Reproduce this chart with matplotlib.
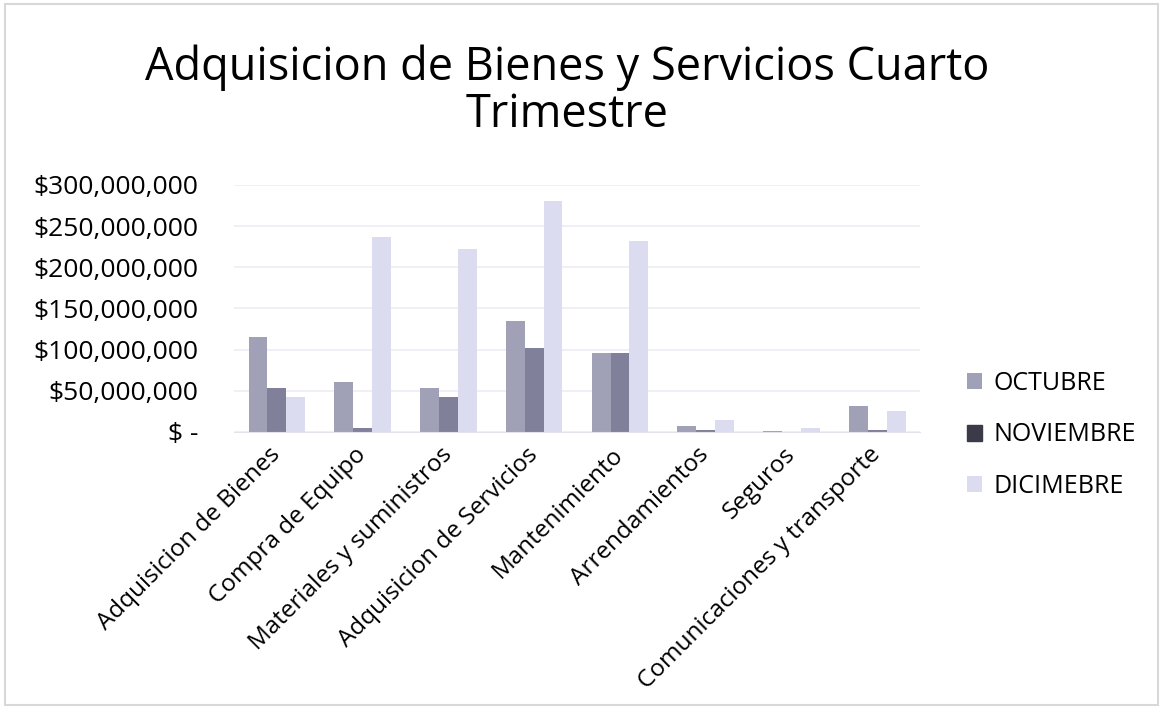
import matplotlib
matplotlib.use('Agg')
import matplotlib.pyplot as plt
import matplotlib.ticker as mtick
import numpy as np

# datos (pesos)
categorias = ['Adquisicion de Bienes', 'Compra de Equipo', 'Materiales y suministros',
              'Adquisicion de Servicios', 'Mantenimiento', 'Arrendamientos', 'Seguros',
              'Comunicaciones y transporte']
octubre = [115e6, 61e6, 53e6, 135e6, 96e6, 7e6, 1e6, 32e6]
noviembre = [53e6, 5e6, 43e6, 102e6, 96e6, 2e6, 0.5e6, 2e6]
diciembre = [42e6, 237e6, 222e6, 280e6, 232e6, 15e6, 5e6, 26e6]
series = ['OCTUBRE', 'NOVIEMBRE', 'DICIMEBRE']
yticks = [0, 50e6, 100e6, 150e6, 200e6, 250e6, 300e6]

plt.rcParams['font.family'] = ['Open Sans', 'DejaVu Sans']

fig = plt.figure(figsize=(11.63, 7.09), dpi=100)
ax = fig.add_axes([0.2012, 0.3907, 0.590, 0.3484])

colores = ['#a0a0b6', '#80809a', '#dcdcf0']
x = np.arange(len(categorias))
w = 0.22
for i, (vals, lab) in enumerate(zip([octubre, noviembre, diciembre], series)):
    ax.bar(x + (i - 1) * w, vals, w, color=colores[i], label=lab, zorder=2)

ax.set_ylim(0, 300e6)
ax.set_xlim(-0.5, len(categorias) - 0.5)
ax.set_yticks(yticks)
ax.yaxis.set_major_formatter(mtick.FuncFormatter(
    lambda v, pos: '$ -' if v == 0 else '${:,.0f}'.format(v)))
ax.grid(axis='y', color='#ececf4', linewidth=1.2, zorder=0)
for s in ['top', 'right', 'left']:
    ax.spines[s].set_visible(False)
ax.spines['bottom'].set_color('#e4e4ec')
ax.tick_params(axis='y', length=0, labelsize=19, pad=26)
ax.tick_params(axis='x', length=0, labelsize=17.5, pad=14)
ax.set_xticks(x)
ax.set_xticklabels(categorias, rotation=45, ha='right', va='center',
                   rotation_mode='anchor')

leg = fig.legend(loc='center left', bbox_to_anchor=(0.8315, 0.3865), frameon=False,
                 fontsize=18, handlelength=0.6, handleheight=0.6, labelspacing=1.06,
                 handletextpad=0.45, borderpad=0, borderaxespad=0)
leg.legend_handles[1].set_color('#3a3a48')

fig.text(0.488, 0.887, 'Adquisicion de Bienes y Servicios Cuarto',
         ha='center', va='baseline', fontsize=32.5)
fig.text(0.488, 0.821, 'Trimestre', ha='center', va='baseline', fontsize=32.5)

# marco del grafico
fig.patches.append(plt.Rectangle((0.004, 0.006), 0.992, 0.988, transform=fig.transFigure,
                                 fill=False, edgecolor='#d8d8d8', linewidth=1.5))

plt.savefig('out.png', dpi=100)
